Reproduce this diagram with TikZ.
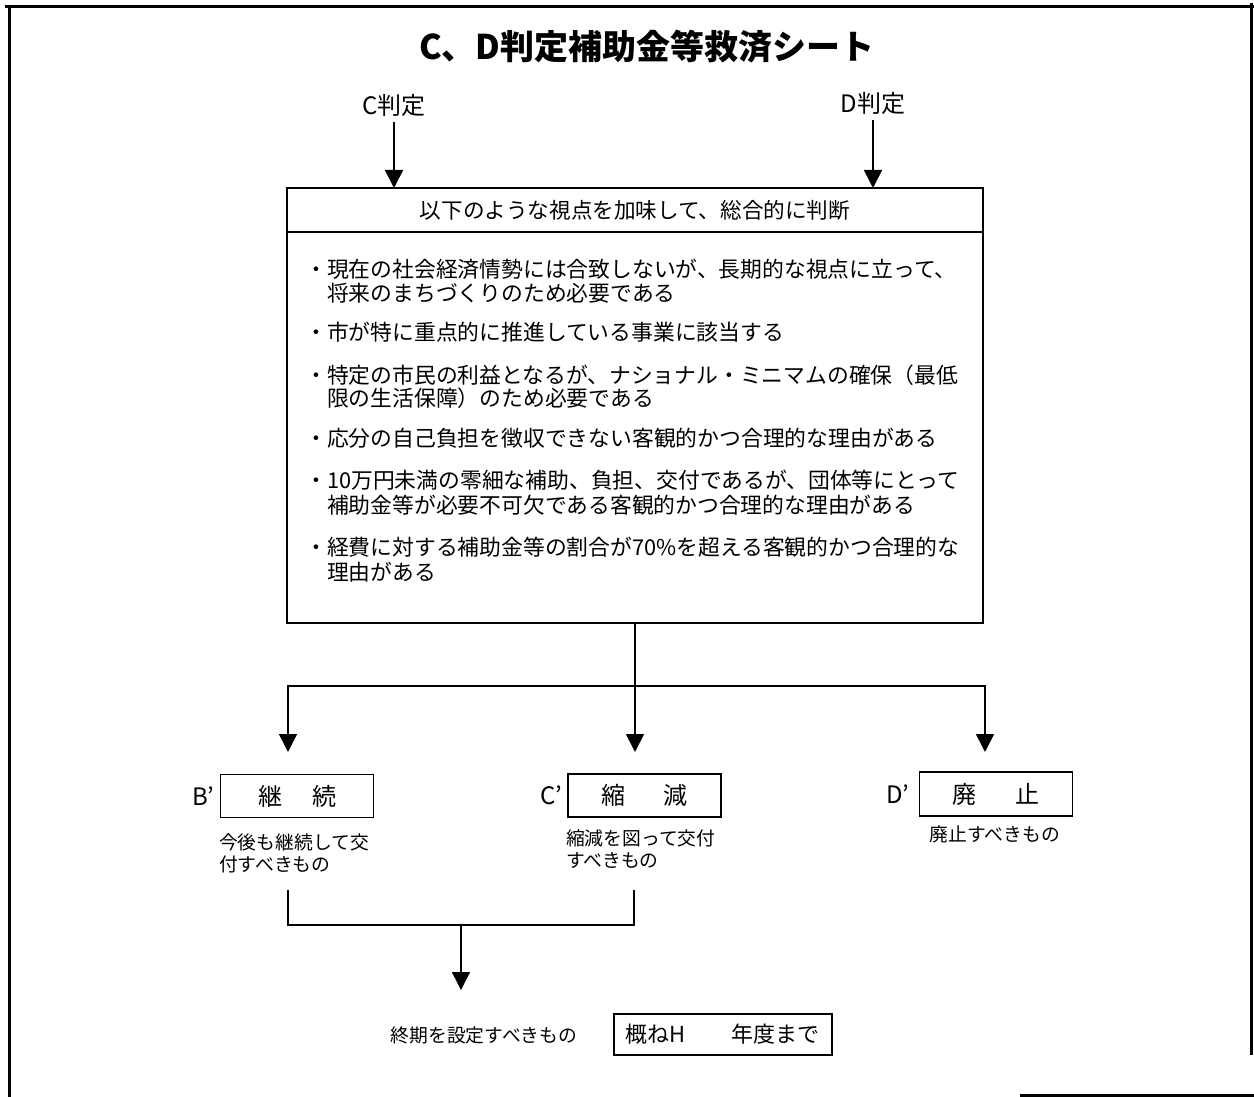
\documentclass[tikz,border=0pt]{standalone}
\usepackage{fontspec}
\setmainfont{Noto Sans CJK JP}
\newfontfamily\jp{Noto Sans CJK JP}
\usetikzlibrary{arrows.meta}
\begin{document}
\begin{tikzpicture}[x=0.5pt,y=-0.5pt,
  every node/.style={inner sep=0pt, outer sep=0pt},
  arr/.style={-{Triangle[width=9pt,length=9pt]}, line width=0.8pt},
  ln/.style={line width=0.8pt},
  frameline/.style={line width=1.5pt},
  boxed/.style={draw, line width=0.8pt},
  titlefont/.style={font={\jp\bfseries\fontsize{17}{20}\selectfont}},
  lblfont/.style={font={\jp\fontsize{12}{14}\selectfont}},
  headfont/.style={font={\jp\fontsize{10.8}{12}\selectfont}},
  li/.style={anchor=base west, font={\jp\fontsize{10.9}{12}\selectfont}},
  desc/.style={anchor=base west, font={\jp\fontsize{9.4}{11}\selectfont}},
  cbox/.style={boxed, minimum width=76.5pt, minimum height=21.5pt, font={\jp\fontsize{12}{14}\selectfont}}
]
\useasboundingbox (0,0) rectangle (1254,1097);
% frame
\draw[frameline] (5,7) -- (1254,7);
\draw[frameline] (9,7) -- (9,1097);
\draw[frameline] (1251,3) -- (1251,1055);
\draw[frameline] (1020,1095) -- (1254,1095);
% title
\node[titlefont] (title) at (647,47) {C、D判定補助金等救済シート};
% inputs
\node[lblfont] (cj) at (394,105) {C判定};
\node[lblfont] (dj) at (873,103) {D判定};
% main box
\node[boxed, anchor=north west, minimum width=348pt, minimum height=217.5pt] (main) at (287,188) {};
\node[boxed, anchor=north west, minimum width=348pt, minimum height=22pt, headfont] (head) at (287,188) {以下のような視点を加味して、総合的に判断};
\draw[arr] ([yshift=-3pt]cj.south) -- (cj.south |- head.north);
\draw[arr] ([yshift=-3pt]dj.south) -- (dj.south |- head.north);
% list
\node[li] (l1a) at (327,278) {\llap{・}現在の社会経済情勢には合致しないが、長期的な視点に立って、};
\node[li] (l1b) at (327,301) {将来のまちづくりのため必要である};
\node[li] (l2a) at (327,340) {\llap{・}市が特に重点的に推進している事業に該当する};
\node[li] (l3a) at (327,383) {\llap{・}特定の市民の利益となるが、ナショナル・ミニマムの確保（最低};
\node[li] (l3b) at (327,406) {限の生活保障）のため必要である};
\node[li] (l4a) at (327,446) {\llap{・}応分の自己負担を徴収できない客観的かつ合理的な理由がある};
\node[li] (l5a) at (327,488) {\llap{・}10万円未満の零細な補助、負担、交付であるが、団体等にとって};
\node[li] (l5b) at (327,513) {補助金等が必要不可欠である客観的かつ合理的な理由がある};
\node[li] (l6a) at (327,555) {\llap{・}経費に対する補助金等の割合が70\%を超える客観的かつ合理的な};
\node[li] (l6b) at (327,580) {理由がある};
% split
\coordinate (split) at (635,686);
\coordinate (tB) at (288,752);
\coordinate (tC) at (635,752);
\coordinate (tD) at (985,752);
\draw[ln] (main.south) -- (split);
\draw[arr] (split) -| (tB);
\draw[arr] (split) -| (tD);
\draw[arr] (split) -- (tC);
% result boxes
\node[cbox] (bB) at (297,796) {継\hspace{15pt}続};
\node[cbox] (bC) at (644.5,795.5) {縮\hspace{19pt}減};
\node[cbox, minimum height=22pt] (bD) at (996,794) {廃\hspace{20pt}止};
\node[lblfont, anchor=east] (lB) at ([xshift=-3pt]bB.west) {B’};
\node[lblfont, anchor=east] (lC) at ([xshift=-3pt]bC.west) {C’};
\node[lblfont, anchor=east] (lD) at ([xshift=-5pt]bD.west) {D’};
% descriptions
\node[desc] (dB1) at (219,849) {今後も継続して交};
\node[desc] (dB2) at (219,871) {付すべきもの};
\node[desc] (dC1) at (566,845) {縮減を図って交付};
\node[desc] (dC2) at (566,867) {すべきもの};
\node[desc, anchor=base] (dD1) at (995,841) {廃止すべきもの};
% merge
\coordinate (mB) at (288,890);
\coordinate (mC) at (634,890);
\coordinate (join) at (461,925);
\coordinate (tE) at (461,990);
\draw[ln] (mB) |- (mC |- join) -- (mC);
\draw[arr] (join) -- (tE);
% final
\node[font={\jp\fontsize{9.4}{11}\selectfont}] (fin) at (484,1035) {終期を設定すべきもの};
\node[boxed, minimum width=109pt, minimum height=20.5pt, font={\jp\fontsize{11}{13}\selectfont}] (yr) at (723,1034.5) {概ねH\hspace{23pt}年度まで};
\end{tikzpicture}
\end{document}
